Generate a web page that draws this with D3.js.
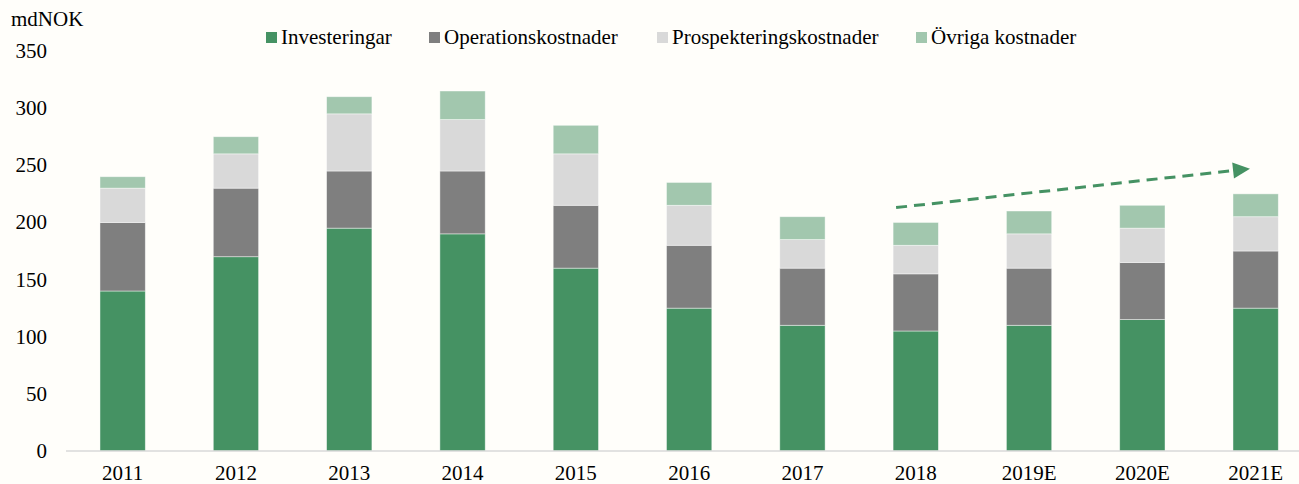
<!DOCTYPE html>
<html><head><meta charset="utf-8">
<script src="https://cdn.jsdelivr.net/npm/d3@7"></script>
<style>
html,body{margin:0;padding:0;background:#FFFEFA;}
svg{display:block;}
svg text{font-family:'Times New Roman','Liberation Serif',Tinos,'DejaVu Serif',serif;}
</style></head>
<body><svg id="c" width="1299" height="484"></svg>
<script>
const categories = ["2011","2012","2013","2014","2015","2016","2017","2018","2019E","2020E","2021E"];
const investeringar = [140,170,195,190,160,125,110,105,110,115,125];
const operationskostnader = [60,60,50,55,55,55,50,50,50,50,50];
const prospekteringskostnader = [30,30,50,45,45,35,25,25,30,30,30];
const ovrigaKostnader = [10,15,15,25,25,20,20,20,20,20,20];
const seriesNames = ["Investeringar","Operationskostnader","Prospekteringskostnader","Övriga kostnader"];
const seriesColors = ["#459263","#7F7F7F","#D9D9D9","#A2C7AE"];
const yTicks = [0,50,100,150,200,250,300,350];
// trend arrow (category, value) endpoints
const arrowStart = {cat:"2018", value:213};
const arrowEnd = {cat:"2021E", value:247};

const svg = d3.select("#c");
const x = d3.scaleBand().domain(categories).range([66, 66+11*113.3]).paddingInner(0.6).paddingOuter(0.3);
const y = d3.scaleLinear().domain([0,350]).range([451, 51]);

const rows = categories.map((c,i)=>({cat:c, s0:investeringar[i], s1:operationskostnader[i], s2:prospekteringskostnader[i], s3:ovrigaKostnader[i]}));
const stack = d3.stack().keys(["s0","s1","s2","s3"])(rows);

svg.append("g").selectAll("g").data(stack).join("g")
  .attr("fill",(d,i)=>seriesColors[i])
  .selectAll("rect").data(d=>d).join("rect")
  .attr("x",d=>x(d.data.cat)).attr("width",x.bandwidth())
  .attr("y",d=>y(d[1])).attr("height",d=>y(d[0])-y(d[1]))
  .attr("stroke","rgba(255,255,255,0.55)").attr("stroke-width",0.8);

// baseline
svg.append("line").attr("x1",66).attr("x2",1299).attr("y1",y(0)).attr("y2",y(0))
  .attr("stroke","#D9D9D9").attr("stroke-width",1.5);

// y tick labels
svg.append("g").selectAll("text").data(yTicks).join("text")
  .attr("x",47).attr("y",d=>y(d)).attr("dy","0.33em").attr("text-anchor","end")
  .attr("font-size",21).attr("fill","#000").text(d=>d);

// x labels
svg.append("g").selectAll("text").data(categories).join("text")
  .attr("x",d=>x(d)+x.bandwidth()/2).attr("y",480).attr("text-anchor","middle")
  .attr("font-size",21).attr("fill","#000").text(d=>d);

// unit label
svg.append("text").attr("x",11).attr("y",26).attr("font-size",21).attr("fill","#000").text("mdNOK");

// legend
const legX = [266, 429, 657, 916];
const lg = svg.append("g").selectAll("g").data(seriesNames).join("g")
  .attr("transform",(d,i)=>`translate(${legX[i]},0)`);
lg.append("rect").attr("x",0).attr("y",32).attr("width",11).attr("height",11).attr("fill",(d,i)=>seriesColors[i]);
lg.append("text").attr("x",15).attr("y",44).attr("font-size",21).attr("fill","#000").text(d=>d);

// trend arrow
const ax1 = x(arrowStart.cat)+3, ay1 = y(arrowStart.value);
const ax2 = x(arrowEnd.cat)+17, ay2 = y(arrowEnd.value);
const ang = Math.atan2(ay2-ay1, ax2-ax1);
const headLen = 17, headW = 8;
const bx = ax2 - headLen*Math.cos(ang), by = ay2 - headLen*Math.sin(ang);
svg.append("line").attr("x1",ax1).attr("y1",ay1).attr("x2",bx).attr("y2",by)
  .attr("stroke","#459263").attr("stroke-width",3).attr("stroke-dasharray","11,7");
const px = -Math.sin(ang), py = Math.cos(ang);
svg.append("path")
  .attr("d",`M${ax2},${ay2}L${bx+px*headW},${by+py*headW}L${bx-px*headW},${by-py*headW}Z`)
  .attr("fill","#459263");
</script></body></html>
